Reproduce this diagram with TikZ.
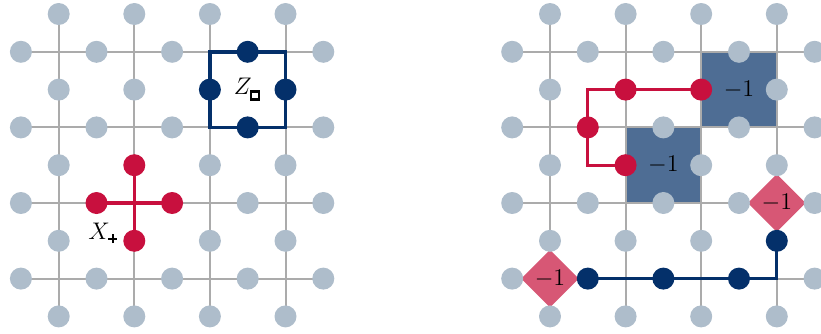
\documentclass[tikz,border=0pt]{standalone}
\usepackage{amsmath,amssymb}
\usetikzlibrary{shapes.geometric}
\definecolor{qgrey}{HTML}{AEBDCB}
\definecolor{gridgrey}{HTML}{ABABAB}
\definecolor{qnavy}{HTML}{04306A}
\definecolor{qred}{HTML}{C8103E}
\definecolor{plaqblue}{HTML}{4E6D94}
\definecolor{vpink}{HTML}{D75775}
\pgfdeclarelayer{fills}
\pgfdeclarelayer{gridl}
\pgfdeclarelayer{paths}
\pgfsetlayers{fills,gridl,paths,main}
\newcommand{\sqbox}{\mbox{\fboxsep=0pt\fboxrule=1.2pt\fbox{\rule{0pt}{2.8pt}\rule{2.8pt}{0pt}}}}
\newcommand{\plusmark}{\mbox{\rule[1.8pt]{4.6pt}{1pt}\kern-2.8pt\rule{1pt}{4.6pt}\kern1.8pt}}
\tikzset{
  qubit/.style={circle, fill=qgrey, minimum size=11pt, inner sep=0pt},
  redq/.style={fill=qred},
  blueq/.style={fill=qnavy},
  gridline/.style={draw=gridgrey, line width=1pt},
  redpath/.style={draw=qred, line width=1.6pt},
  bluepath/.style={draw=qnavy, line width=1.6pt},
  flipplaq/.style={rectangle, fill=plaqblue, minimum size=37.8pt, inner sep=0pt, font=\large},
  vertexflip/.style={diamond, aspect=1, fill=vpink, minimum size=29pt, inner sep=0pt, font=\large},
  lbl/.style={font=\large, inner sep=0pt},
  % coloured qubits, left lattice
  qLh30/.style={blueq}, qLh31/.style={blueq}, qLv21/.style={blueq}, qLv31/.style={blueq},
  qLh12/.style={redq}, qLh22/.style={redq}, qLv12/.style={redq}, qLv13/.style={redq},
  % coloured qubits, right lattice
  qRv21/.style={redq}, qRv11/.style={redq}, qRh11/.style={redq}, qRv12/.style={redq},
  qRv33/.style={blueq}, qRh13/.style={blueq}, qRh23/.style={blueq}, qRh33/.style={blueq},
}
% #1 = prefix of the lattice
\newcommand{\drawlattice}[1]{%
  \foreach \i in {0,...,3}{\foreach \j in {0,...,3}{\coordinate (#1p\i\j) at (\i,\j);}}
  % horizontal-edge qubits
  \foreach \i in {0,...,4}{\foreach \j in {0,...,3}{%
    \node[qubit, q#1h\i\j/.try] (#1h\i\j) at (\i-0.5,\j) {};}}
  % vertical-edge qubits
  \foreach \i in {0,...,3}{\foreach \j in {0,...,4}{%
    \node[qubit, q#1v\i\j/.try] (#1v\i\j) at (\i,\j-0.5) {};}}
  \begin{pgfonlayer}{gridl}
    \foreach \j in {0,...,3}{\draw[gridline] (#1h0\j.center) -- (#1h4\j.center);}
    \foreach \i in {0,...,3}{\draw[gridline] (#1v\i0.center) -- (#1v\i4.center);}
  \end{pgfonlayer}
}
\begin{document}
\begin{tikzpicture}[x=0.5pt,y=-0.5pt]
\useasboundingbox (0,0) rectangle (821,333);
% ---------------- left lattice ----------------
\begin{scope}[shift={(58.7,51.8)}, x=37.8pt, y=-37.8pt]
  \drawlattice{L}
  \begin{pgfonlayer}{paths}
    \draw[bluepath, line width=1.7pt] (Lp20) rectangle (Lp31);
    \draw[redpath] (Lh12.center) -- (Lh22.center);
    \draw[redpath] (Lv12.center) -- (Lv13.center);
  \end{pgfonlayer}
  \node[lbl] (zlab) at (2.5,0.5) {$Z_{\sqbox}$};
  \node[lbl] (xlab) at (0.59,2.40) {$X_{\plusmark}$};
\end{scope}
% ---------------- right lattice ----------------
\begin{scope}[shift={(550,51.8)}, x=37.8pt, y=-37.8pt]
  \begin{pgfonlayer}{fills}
    \node[flipplaq] (P1) at (1.5,1.5) {$-1$};
    \node[flipplaq] (P2) at (2.5,0.5) {$-1$};
  \end{pgfonlayer}
  \drawlattice{R}
  \coordinate (Rc1) at (0.5,0.5);
  \coordinate (Rc2) at (0.5,1.5);
  \begin{pgfonlayer}{paths}
    \node[vertexflip] (D1) at (0,3) {$-1$};
    \node[vertexflip] (D2) at (3,2) {$-1$};
    \draw[redpath] (Rv21.center) -- (Rv11.center) -- (Rc1) -- (Rc2) -- (Rv12.center);
    \draw[bluepath] (Rv33.center) -- (Rp33) -- (Rh33.center) -- (Rh23.center) -- (Rh13.center);
  \end{pgfonlayer}
\end{scope}
\end{tikzpicture}
\end{document}
